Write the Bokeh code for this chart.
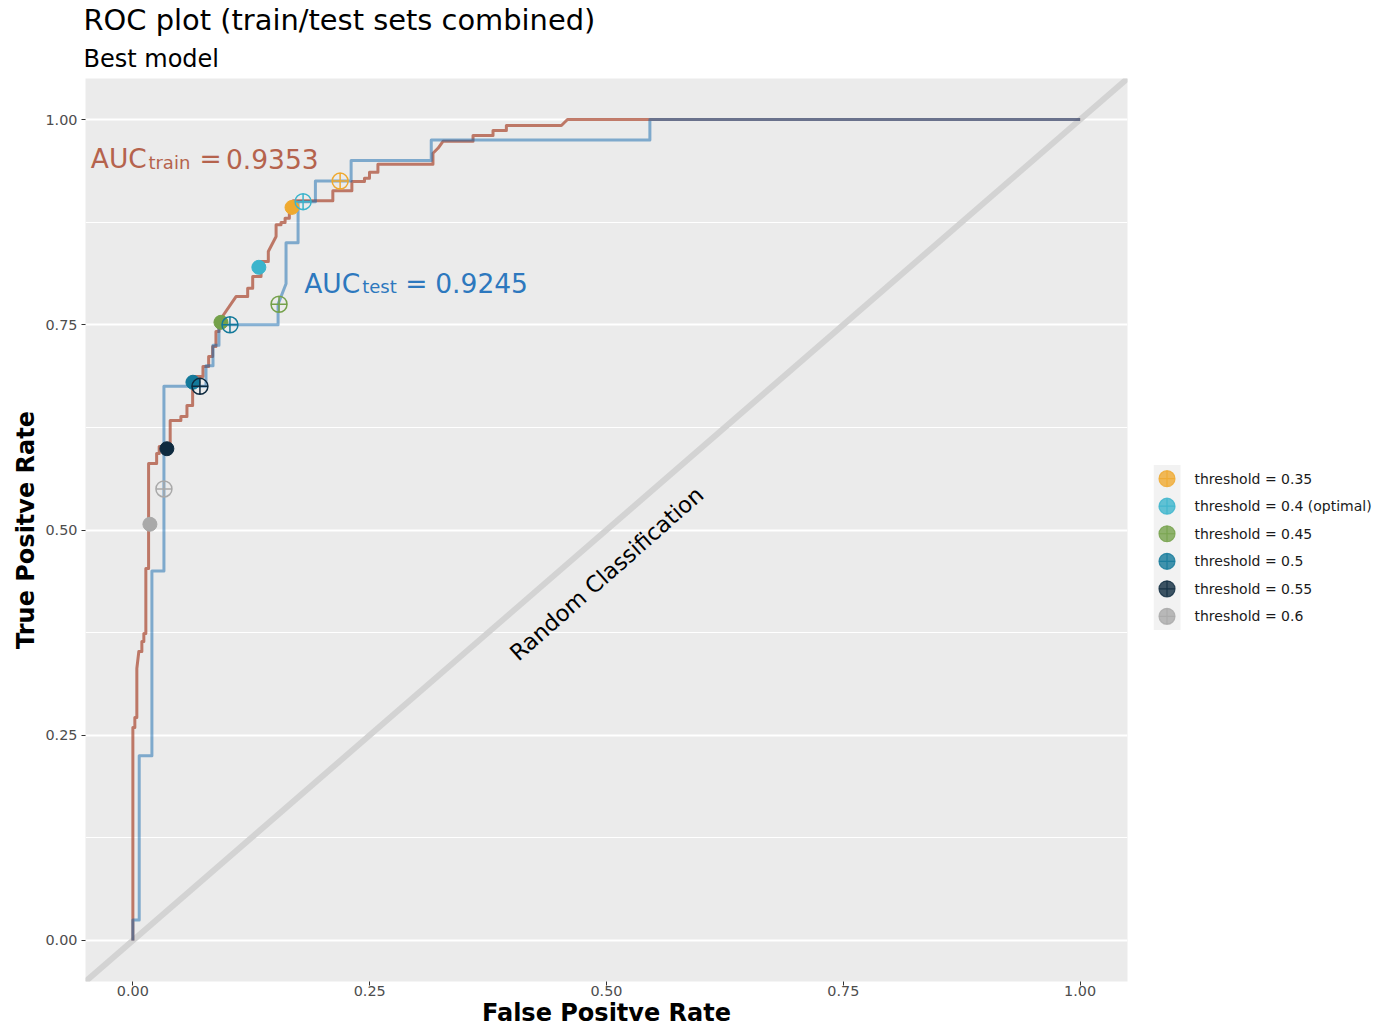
import math
from bokeh.plotting import figure
from bokeh.models import Range1d, FixedTicker, NumeralTickFormatter, Label, Slope, BoxAnnotation, Title
from bokeh.layouts import row
from bokeh.embed import file_html
from bokeh.resources import INLINE
from bokeh.core.properties import value

FONT = "DejaVu Sans"

# ---------------- data ----------------
train_fpr = [0.0, 0.0, 0.0021, 0.0021, 0.0042, 0.0042, 0.0063, 0.0095, 0.0095, 0.0116, 0.0116, 0.0137,
             0.0137, 0.0166, 0.0166, 0.0251, 0.0251, 0.0278, 0.0278, 0.0394, 0.0394, 0.0507, 0.0507,
             0.0571, 0.0571, 0.0631, 0.0631, 0.0740, 0.0740, 0.0800, 0.0800, 0.0842, 0.0842, 0.0877,
             0.0877, 0.0909, 0.0909, 0.1089, 0.1212, 0.1212, 0.1265, 0.1265, 0.1353, 0.1353, 0.1430,
             0.1430, 0.1512, 0.1512, 0.1564, 0.1564, 0.1607, 0.1607, 0.1652, 0.1652, 0.1691, 0.1691,
             0.2111, 0.2111, 0.2312, 0.2312, 0.2445, 0.2445, 0.2498, 0.2498, 0.2587, 0.2587, 0.3168,
             0.3168, 0.3221, 0.3274, 0.3591, 0.3591, 0.3802, 0.3802, 0.3943, 0.3943, 0.4524, 0.4588, 1.0]
train_tpr = [0.0, 0.2594, 0.2594, 0.2716, 0.2716, 0.3313, 0.3520, 0.3520, 0.3642, 0.3642, 0.3739, 0.3739,
             0.4531, 0.4531, 0.5810, 0.5810, 0.5932, 0.5932, 0.6017, 0.6017, 0.6334, 0.6334, 0.6382,
             0.6382, 0.6516, 0.6516, 0.6870, 0.6870, 0.6991, 0.6991, 0.7113, 0.7113, 0.7235, 0.7235,
             0.7418, 0.7418, 0.7540, 0.7844, 0.7844, 0.7945, 0.7945, 0.8088, 0.8088, 0.8270, 0.8270,
             0.8392, 0.8575, 0.8717, 0.8717, 0.8745, 0.8745, 0.8798, 0.8798, 0.8879, 0.8879, 0.9010,
             0.9010, 0.9132, 0.9132, 0.9245, 0.9245, 0.9285, 0.9285, 0.9358, 0.9358, 0.9456, 0.9456,
             0.9590, 0.9650, 0.9735, 0.9735, 0.9805, 0.9805, 0.9866, 0.9866, 0.9927, 0.9927, 1.0, 1.0]

test_fpr = [0.0, 0.0, 0.0067, 0.0067, 0.0201, 0.0201, 0.0328, 0.0328, 0.0772, 0.0772, 0.0846, 0.0846,
            0.0909, 0.0909, 0.1533, 0.1533, 0.1617, 0.1617, 0.1744, 0.1744, 0.1927, 0.1927, 0.2304,
            0.2304, 0.3150, 0.3150, 0.5458, 0.5458, 1.0]
test_tpr = [0.0, 0.025, 0.025, 0.225, 0.225, 0.45, 0.45, 0.675, 0.675, 0.70, 0.70, 0.725,
            0.725, 0.75, 0.75, 0.775, 0.80, 0.85, 0.85, 0.90, 0.90, 0.925, 0.925,
            0.95, 0.95, 0.975, 0.975, 1.0, 1.0]

thresholds = ["0.35", "0.4", "0.45", "0.5", "0.55", "0.6"]
threshold_labels = ["threshold = 0.35", "threshold = 0.4 (optimal)", "threshold = 0.45",
                    "threshold = 0.5", "threshold = 0.55", "threshold = 0.6"]
threshold_colors = ["#EFA92F", "#3BB4CC", "#74A14A", "#13799A", "#0E2A3F", "#A9A9A9"]

train_pt_fpr = [0.1680, 0.1330, 0.0930, 0.0634, 0.0359, 0.0180]
train_pt_tpr = [0.8930, 0.8200, 0.7530, 0.6800, 0.5990, 0.5070]
test_pt_fpr = [0.2188, 0.1797, 0.1543, 0.1025, 0.0708, 0.0328]
test_pt_tpr = [0.9250, 0.9000, 0.7750, 0.7500, 0.6750, 0.5500]

auc_train = "0.9353"
auc_test = "0.9245"

major_ticks = [0.0, 0.25, 0.5, 0.75, 1.0]
minor_ticks = [0.125, 0.375, 0.625, 0.875]

TRAIN_COL = "#AA462D"
TEST_COL = "#1168AE"
TRAIN_TXT = "#B5634D"
TEST_TXT = "#2D78BE"

BORDER_TOP, FIG_H = 78, 1029

# ---------------- main plot ----------------
p = figure(width=1137, height=FIG_H, x_range=Range1d(-0.05, 1.05), y_range=Range1d(-0.05, 1.05),
           output_backend="svg", toolbar_location=None,
           min_border_left=85, min_border_right=10, min_border_top=BORDER_TOP,
           min_border_bottom=40)
p.background_fill_color = "#EBEBEB"
p.border_fill_color = "white"
p.outline_line_color = None

p.add_layout(Title(text="Best model", text_font=FONT, text_font_size="24px", text_color="black",
                   text_font_style="normal", align="left", offset=-2, standoff=12), "above")
p.add_layout(Title(text="ROC plot (train/test sets combined)", text_font=FONT, text_font_size="28.9px",
                   text_color="black", text_font_style="normal", align="left", offset=-2,
                   standoff=0), "above")

p.xaxis.ticker = FixedTicker(ticks=major_ticks)
p.yaxis.ticker = FixedTicker(ticks=major_ticks, minor_ticks=minor_ticks)
p.xaxis.axis_label = "False Positve Rate"
p.yaxis.axis_label = "True Positve Rate"
for ax in (p.xaxis[0], p.yaxis[0]):
    ax.formatter = NumeralTickFormatter(format="0.00")
    ax.axis_line_color = None
    ax.major_tick_line_color = "#333333"
    ax.major_tick_out = 4
    ax.major_tick_in = 0
    ax.minor_tick_line_color = None
    ax.major_label_text_font = FONT
    ax.major_label_text_font_size = "14.4px"
    ax.major_label_text_color = "#4D4D4D"
    ax.major_label_standoff = 4
    ax.axis_label_text_font = FONT
    ax.axis_label_text_font_size = "24px"
    ax.axis_label_text_font_style = "bold"
    ax.axis_label_text_color = "black"
p.xaxis.major_label_standoff = 0
p.xaxis.axis_label_standoff = 0
p.yaxis.axis_label_standoff = 2
p.xgrid.visible = False
p.ygrid.grid_line_color = "white"
p.ygrid.grid_line_width = 2
p.ygrid.minor_grid_line_color = "white"
p.ygrid.minor_grid_line_width = 1

p.add_layout(Slope(gradient=1, y_intercept=0, line_color="#D3D3D3", line_width=6, level="underlay"))

p.line(train_fpr, train_tpr, line_color=TRAIN_COL, line_alpha=0.7, line_width=3, line_join="round")
p.line(test_fpr, test_tpr, line_color=TEST_COL, line_alpha=0.5, line_width=3, line_join="round")

p.scatter(train_pt_fpr, train_pt_tpr, marker="circle", size=14,
          fill_color=threshold_colors, line_color=threshold_colors)
p.scatter(test_pt_fpr, test_pt_tpr, marker="circle_cross", size=16,
          fill_color=None, line_color=threshold_colors, line_width=1.5)

def lab(x, y, text, size, color="black", **kw):
    p.add_layout(Label(x=x, y=y, text=text, text_font=FONT, text_font_size=size,
                       text_color=color, text_baseline=kw.pop("baseline", "alphabetic"),
                       text_align=kw.pop("align", "left"), **kw))

# AUC annotations
lab(-0.0444, 0.9525, "AUC", "26.5px", TRAIN_TXT)
lab(0.0164, 0.9482, "train", "18px", TRAIN_TXT)
lab(0.0704, 0.9525, "=", "26.5px", TRAIN_TXT)
lab(0.0983, 0.9525, auc_train, "26.5px", TRAIN_TXT)

lab(0.1808, 0.8008, "AUC", "26.5px", TEST_TXT)
lab(0.2421, 0.7966, "test", "18px", TEST_TXT)
lab(0.2875, 0.8008, "=", "26.5px", TEST_TXT)
lab(0.3192, 0.8008, auc_test, "26.5px", TEST_TXT)

lab(0.5, 0.447, "Random Classification", "22.5px", "black", align="center", baseline="middle",
    angle=math.radians(41.5))

# ---------------- legend panel ----------------
frame_h = 902
row_px = 27.5
top_units = -(386 + row_px / 2) / row_px
leg = figure(width=245, height=FIG_H, x_range=Range1d(0, 229),
             y_range=Range1d(top_units + frame_h / row_px, top_units),
             output_backend="svg", toolbar_location=None,
             x_axis_location=None, y_axis_location=None,
             min_border_left=16, min_border_right=0, min_border_top=BORDER_TOP,
             min_border_bottom=40)
leg.outline_line_color = None
leg.background_fill_color = "white"
leg.grid.visible = False
n = len(threshold_labels)
idx = list(range(n))
leg.add_layout(BoxAnnotation(left=0, right=27, top=-0.5, bottom=n - 0.5, fill_color="#F2F2F2",
                             fill_alpha=1, line_color=None, level="underlay"))
leg.scatter([13.5] * n, idx, marker="circle", size=16, fill_color=threshold_colors,
            line_color=None, fill_alpha=0.8)
leg.scatter([13.5] * n, idx, marker="circle_cross", size=16, fill_color=None,
            line_color=threshold_colors, line_alpha=0.8, line_width=1.2)
leg.text([41] * n, idx, text=threshold_labels, text_baseline="middle",
         text_font=value(FONT), text_font_size="14px", text_color="#1A1A1A")

layout = row(p, leg)
open("out.html", "w").write(file_html(layout, INLINE))
